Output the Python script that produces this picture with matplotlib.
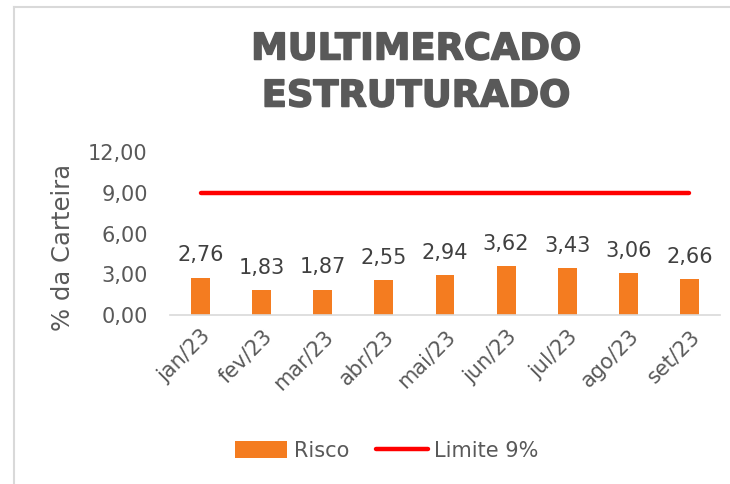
import numpy as np
import matplotlib.pyplot as plt
import matplotlib.patheffects as pe
from matplotlib.lines import Line2D

meses = ['jan/23', 'fev/23', 'mar/23', 'abr/23', 'mai/23', 'jun/23', 'jul/23', 'ago/23', 'set/23']
risco = [2.76, 1.83, 1.87, 2.55, 2.94, 3.62, 3.43, 3.06, 2.66]
limite = [9, 9, 9, 9, 9, 9, 9, 9, 9]
yticks = [0, 3, 6, 9, 12]

cinza = '#595959'
plt.rcParams['font.family'] = ['DejaVu Sans']

fig = plt.figure(figsize=(7.3, 4.84), dpi=100)
ax = fig.add_axes([170 / 730, 1 - 315 / 484, 550 / 730, 163 / 484])

# moldura cinza (só topo e esquerda aparecem)
fig.add_artist(Line2D([14 / 730, 1], [1 - 7 / 484, 1 - 7 / 484], color='#d9d9d9', lw=1.5))
fig.add_artist(Line2D([14 / 730, 14 / 730], [0, 1 - 7 / 484], color='#d9d9d9', lw=1.5))

x = np.arange(len(meses))
barras = ax.bar(x, risco, width=0.31, color='#f47c20', label='Risco', zorder=2)
linha, = ax.plot(x, limite, color='#ff0000', lw=3.2, solid_capstyle='round', label='Limite 9%', zorder=3)

for xi, v in zip(x, risco):
    ax.text(xi, v + 0.9, f'{v:.2f}'.replace('.', ','), ha='center', va='bottom',
            fontsize=15, color='#404040')

ax.set_xlim(-0.5, len(meses) - 0.5)
ax.set_ylim(0, 12)
ax.set_yticks(yticks)
ax.set_yticklabels([f'{t:.2f}'.replace('.', ',') for t in yticks], fontsize=15, color=cinza)
ax.set_xticks(x)
ax.set_xticklabels(meses, rotation=45, ha='right', rotation_mode='anchor', fontsize=15, color=cinza)
ax.tick_params(axis='y', length=0, pad=16)
ax.tick_params(axis='x', length=0, pad=8)

for s in ['top', 'right', 'left']:
    ax.spines[s].set_visible(False)
ax.spines['bottom'].set_color('#d9d9d9')
ax.spines['bottom'].set_linewidth(1.2)

fig.text(63 / 730, 1 - 247 / 484, '% da Carteira', rotation=90, ha='center', va='center',
         fontsize=17.5, color=cinza)

efeito = [pe.Stroke(linewidth=1.1, foreground=cinza), pe.Normal()]
fig.text(416 / 730, 1 - 49 / 484, 'MULTIMERCADO', ha='center', va='center',
         fontsize=26.5, fontweight='bold', color=cinza, path_effects=efeito)
fig.text(416 / 730, 1 - 96 / 484, 'ESTRUTURADO', ha='center', va='center',
         fontsize=26.5, fontweight='bold', color=cinza, path_effects=efeito)

fig.legend([barras, linha], ['Risco', 'Limite 9%'], loc='center',
           bbox_to_anchor=(387 / 730, 1 - 451 / 484), ncol=2, frameon=False,
           fontsize=15, labelcolor=cinza, handlelength=2.5, handleheight=0.9,
           columnspacing=1.3, handletextpad=0.3)

fig.savefig('out.png', dpi=100)
